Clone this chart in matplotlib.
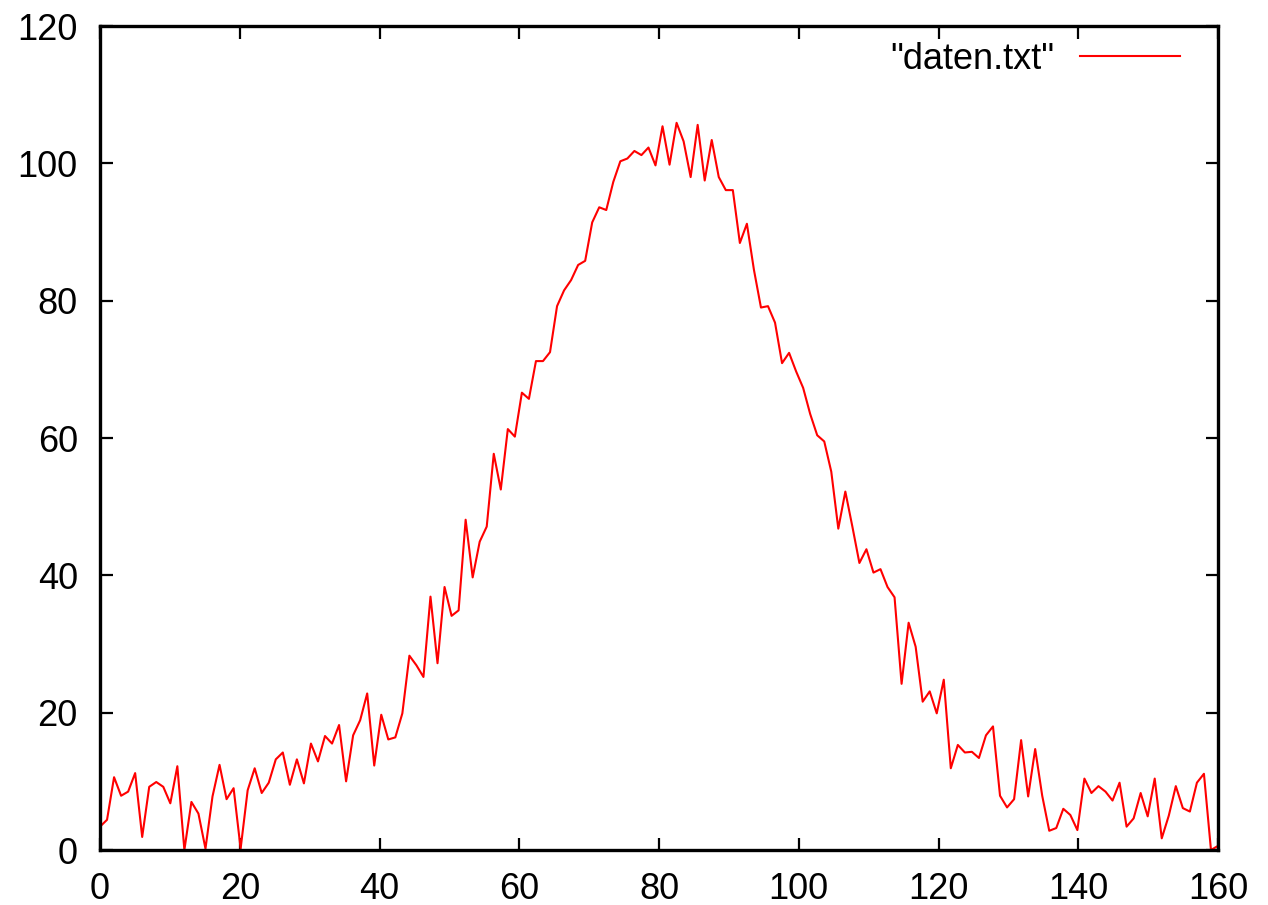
import matplotlib
matplotlib.use('Agg')
import matplotlib.pyplot as plt
import numpy as np

# values, one per sample
y = [3.4, 4.4, 10.6, 7.9, 8.5, 11.2, 1.9, 9.2, 9.9, 9.2,
     6.8, 12.2, 0.0, 7.0, 5.3, 0.2, 7.8, 12.4, 7.4, 9.0,
     0.2, 8.7, 11.9, 8.3, 9.8, 13.2, 14.2, 9.5, 13.2, 9.7,
     15.5, 12.9, 16.6, 15.5, 18.2, 10.0, 16.7, 18.9, 22.8, 12.3,
     19.7, 16.1, 16.4, 19.9, 28.3, 26.9, 25.2, 36.9, 27.2, 38.3,
     34.1, 34.9, 48.1, 39.7, 44.9, 47.1, 57.7, 52.5, 61.3, 60.2,
     66.6, 65.7, 71.2, 71.2, 72.5, 79.2, 81.5, 83.0, 85.2, 85.8,
     91.4, 93.6, 93.2, 97.3, 100.3, 100.7, 101.8, 101.2, 102.3, 99.7,
     105.4, 99.8, 105.9, 103.2, 98.0, 105.6, 97.5, 103.4, 98.0, 96.1,
     96.1, 88.4, 91.2, 84.5, 79.0, 79.2, 76.8, 70.9, 72.4, 69.7,
     67.3, 63.5, 60.4, 59.5, 55.1, 46.8, 52.2, 47.1, 41.8, 43.8,
     40.4, 40.9, 38.3, 36.8, 24.2, 33.1, 29.6, 21.6, 23.1, 19.9,
     24.8, 11.9, 15.3, 14.2, 14.3, 13.4, 16.7, 18.0, 7.9, 6.2,
     7.4, 16.0, 7.8, 14.7, 7.9, 2.8, 3.2, 6.0, 5.1, 2.9,
     10.4, 8.3, 9.3, 8.5, 7.2, 9.8, 3.4, 4.6, 8.3, 4.9,
     10.4, 1.7, 5.0, 9.3, 6.1, 5.6, 9.8, 11.1, 0.0, 0.6]
x = np.linspace(0, 160, len(y))

xticks = [0, 20, 40, 60, 80, 100, 120, 140, 160]
yticks = [0, 20, 40, 60, 80, 100, 120]

plt.rcParams['font.family'] = ['Liberation Sans', 'DejaVu Sans']

fig = plt.figure(figsize=(12.68, 9.05), dpi=100)
ax = fig.add_axes([100 / 1268, 1 - 850 / 905, 1118 / 1268, 824 / 905])

ax.plot(x, y, color='#ff0000', linewidth=1.5, label='"daten.txt"')

ax.set_xlim(0, 160)
ax.set_ylim(0, 120)
ax.set_xticks(xticks)
ax.set_yticks(yticks)
ax.tick_params(direction='in', length=9, width=1.6, top=True, right=True,
               labelsize=26, color='black')
ax.tick_params(axis='x', pad=16)
ax.tick_params(axis='y', pad=16)
for s in ax.spines.values():
    s.set_linewidth(2.4)

ax.legend(loc='upper right', bbox_to_anchor=(0.966, 0.981), frameon=False,
          markerfirst=False, fontsize=26, handlelength=2.77,
          handletextpad=0.7, borderaxespad=0, borderpad=0)

fig.savefig('out.png', dpi=100)
